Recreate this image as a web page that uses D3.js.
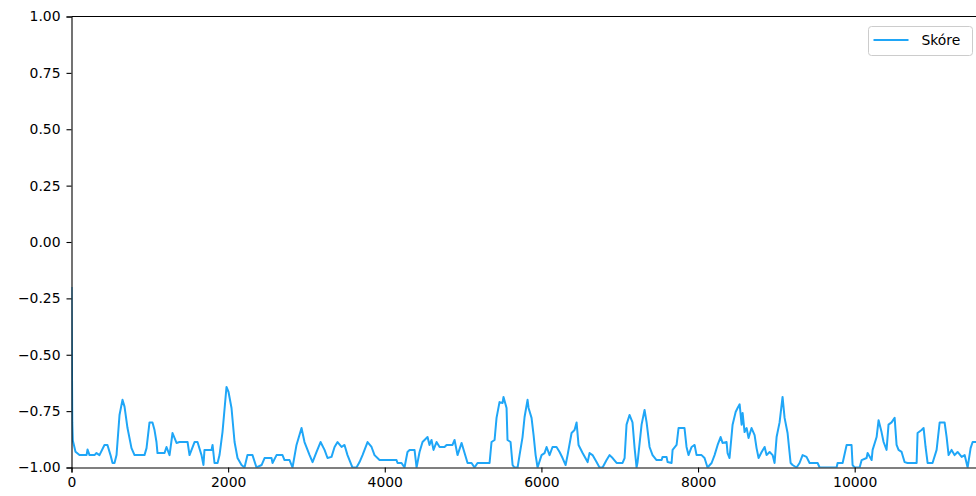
<!DOCTYPE html>
<html>
<head>
<meta charset="utf-8">
<script src="https://cdn.jsdelivr.net/npm/d3@7"></script>
<style>
  html, body { margin: 0; padding: 0; background: #ffffff; }
  svg { display: block; font-family: "DejaVu Sans", sans-serif; }
</style>
</head>
<body>
<svg id="chart" width="976" height="496"></svg>
<script>
// Score samples: position along the run and the score at that position
const steps = [
  0, 10, 17, 51, 102, 192, 205, 230, 294, 319, 357, 421, 459, 498, 524, 549, 575, 613, 651, 677,
  715, 766, 805, 932, 958, 996, 1034, 1060, 1085, 1098, 1188, 1213, 1252, 1290, 1341, 1379, 1482, 1507, 1571, 1609,
  1660, 1685, 1698, 1788, 1801, 1826, 1865, 1890, 1928, 1979, 2005, 2043, 2082, 2120, 2171, 2209, 2247, 2311, 2362, 2427,
  2465, 2554, 2567, 2618, 2694, 2720, 2784, 2822, 2873, 2937, 2975, 3040, 3078, 3129, 3180, 3231, 3269, 3320, 3359, 3397,
  3448, 3486, 3524, 3575, 3588, 3639, 3678, 3716, 3780, 3831, 3869, 3933, 4150, 4163, 4214, 4252, 4290, 4317, 4380, 4406,
  4444, 4482, 4546, 4571, 4597, 4622, 4661, 4700, 4763, 4789, 4865, 4891, 4929, 4981, 5019, 5057, 5108, 5146, 5184, 5338,
  5363, 5402, 5427, 5465, 5504, 5516, 5555, 5567, 5606, 5632, 5657, 5696, 5721, 5759, 5785, 5823, 5836, 5874, 5900, 5926,
  5951, 6002, 6040, 6066, 6104, 6142, 6193, 6232, 6270, 6309, 6334, 6385, 6423, 6449, 6474, 6526, 6590, 6615, 6653, 6704,
  6742, 6781, 6832, 6871, 6909, 6960, 7036, 7062, 7087, 7125, 7163, 7190, 7215, 7228, 7279, 7317, 7343, 7381, 7419, 7470,
  7535, 7547, 7598, 7611, 7662, 7675, 7726, 7751, 7827, 7853, 7878, 7918, 7956, 7981, 8045, 8083, 8121, 8173, 8211, 8250,
  8288, 8313, 8364, 8377, 8402, 8441, 8480, 8505, 8531, 8556, 8569, 8594, 8620, 8645, 8683, 8722, 8747, 8773, 8812, 8850,
  8875, 8914, 8952, 8977, 9003, 9041, 9079, 9105, 9143, 9182, 9207, 9258, 9296, 9335, 9385, 9424, 9527, 9552, 9769, 9782,
  9846, 9897, 9960, 9973, 9999, 10063, 10089, 10152, 10165, 10216, 10229, 10280, 10305, 10343, 10369, 10407, 10432, 10471, 10510, 10535,
  10560, 10599, 10637, 10675, 10791, 10803, 10854, 10880, 10905, 10931, 10994, 11046, 11085, 11148, 11174, 11199, 11237, 11275, 11314, 11366,
  11404, 11442, 11480, 11506, 11544, 11585
];
const scores = [
  -0.20, -0.80, -0.88, -0.93, -0.945, -0.945, -0.92, -0.945, -0.945, -0.936, -0.945, -0.90, -0.90, -0.945, -0.98, -0.98, -0.945, -0.767, -0.70, -0.73,
  -0.825, -0.914, -0.945, -0.945, -0.914, -0.80, -0.80, -0.834, -0.887, -0.936, -0.936, -0.909, -0.945, -0.847, -0.891, -0.887, -0.887, -0.945, -0.887, -0.887,
  -0.945, -0.989, -0.922, -0.922, -0.90, -0.98, -0.98, -0.945, -0.843, -0.643, -0.665, -0.736, -0.887, -0.958, -0.989, -1.0, -0.945, -0.945, -1.0, -0.989,
  -0.958, -0.958, -0.98, -0.945, -0.945, -0.967, -0.967, -1.0, -0.90, -0.825, -0.887, -0.945, -0.976, -0.931, -0.887, -0.922, -0.958, -0.953, -0.909, -0.887,
  -0.909, -0.90, -0.945, -0.989, -1.0, -1.0, -0.976, -0.945, -0.887, -0.909, -0.945, -0.967, -0.967, -0.98, -0.98, -1.0, -0.931, -0.922, -0.922, -1.0,
  -0.931, -0.887, -0.865, -0.90, -0.878, -0.922, -0.887, -0.909, -0.909, -0.90, -0.90, -0.878, -0.945, -0.891, -0.936, -0.98, -0.98, -1.0, -0.98, -0.98,
  -0.887, -0.878, -0.78, -0.71, -0.714, -0.687, -0.736, -0.878, -0.887, -0.989, -1.0, -1.0, -0.945, -0.865, -0.776, -0.70, -0.736, -0.78, -0.856, -0.945,
  -1.0, -0.945, -0.936, -0.909, -0.945, -0.909, -0.909, -0.931, -0.958, -0.989, -0.945, -0.847, -0.834, -0.80, -0.90, -0.936, -0.976, -0.936, -0.945, -0.976,
  -1.0, -1.0, -0.967, -0.945, -0.958, -0.98, -0.98, -0.958, -0.81, -0.767, -0.80, -0.914, -1.0, -0.976, -0.81, -0.745, -0.80, -0.909, -0.945, -0.967,
  -0.967, -0.953, -0.953, -0.976, -0.98, -0.922, -0.90, -0.825, -0.825, -0.909, -0.945, -0.909, -0.90, -0.945, -0.945, -0.958, -1.0, -0.98, -0.945, -0.90,
  -0.865, -0.891, -0.887, -0.936, -0.958, -0.81, -0.754, -0.736, -0.72, -0.81, -0.758, -0.843, -0.825, -0.869, -0.825, -0.856, -0.914, -0.958, -0.931, -0.909,
  -0.945, -0.931, -0.945, -0.98, -0.865, -0.80, -0.687, -0.78, -0.847, -0.98, -0.989, -1.0, -0.98, -0.945, -0.953, -0.98, -0.98, -1.0, -1.0, -0.98,
  -0.98, -0.90, -0.90, -0.989, -1.0, -1.0, -0.967, -0.958, -0.936, -0.967, -0.922, -0.865, -0.79, -0.843, -0.887, -0.922, -0.81, -0.80, -0.78, -0.90,
  -0.922, -0.931, -0.976, -0.98, -0.98, -0.847, -0.834, -0.825, -0.909, -0.98, -0.98, -0.922, -0.80, -0.80, -0.865, -0.945, -0.922, -0.945, -0.931, -0.953,
  -0.945, -1.0, -0.914, -0.887, -0.887, -0.89
];
const seriesName = "Skóre";
const xTicks = [0, 2000, 4000, 6000, 8000, 10000];
const yTicks = [-1.00, -0.75, -0.50, -0.25, 0.00, 0.25, 0.50, 0.75, 1.00];
const xDomain = [0, 11600];
const yDomain = [-1, 1];

const svg = d3.select("#chart");
const plotLeft = 71.5, plotTop = 16.5, plotBottom = 467.5, plotRight = 980;
const lineColor = "#1fa6f7";

const x = d3.scaleLinear().domain(xDomain).range([plotLeft, plotRight]);
const y = d3.scaleLinear().domain(yDomain).range([plotBottom, plotTop]);

svg.append("defs").append("clipPath").attr("id", "plotClip")
  .append("rect")
  .attr("x", plotLeft).attr("y", plotTop)
  .attr("width", plotRight - plotLeft).attr("height", plotBottom - plotTop);

const data = steps.map((s, i) => [s, scores[i]]);

const line = d3.line()
  .x(d => x(d[0]))
  .y(d => y(d[1]));

svg.append("path")
  .datum(data)
  .attr("clip-path", "url(#plotClip)")
  .attr("fill", "none")
  .attr("stroke", lineColor)
  .attr("stroke-width", 2)
  .attr("stroke-linejoin", "round")
  .attr("stroke-linecap", "butt")
  .attr("d", line);

const fmtMinus = s => s.replace("-", "\u2212");

// Axes
const xAxis = d3.axisBottom(x)
  .tickValues(xTicks)
  .tickFormat(d => fmtMinus(d3.format("d")(d)))
  .tickSizeOuter(0)
  .tickSize(5)
  .tickPadding(5);

const yAxis = d3.axisLeft(y)
  .tickValues(yTicks)
  .tickFormat(d => fmtMinus(d3.format(".2f")(d)))
  .tickSizeOuter(0)
  .tickSize(5)
  .tickPadding(6);

const gx = svg.append("g")
  .attr("transform", `translate(0,${plotBottom})`)
  .call(xAxis);
const gy = svg.append("g")
  .attr("transform", `translate(${plotLeft},0)`)
  .call(yAxis);

[gx, gy].forEach(g => {
  g.selectAll(".domain").attr("stroke", "#000").attr("stroke-width", 1.1);
  g.selectAll(".tick line").attr("stroke", "#000").attr("stroke-width", 1.1);
  g.selectAll(".tick text")
    .attr("fill", "#000")
    .style("font-size", "13.9px")
    .style("font-family", "'DejaVu Sans', sans-serif");
});

// top spine
svg.append("line")
  .attr("x1", plotLeft).attr("x2", plotRight)
  .attr("y1", plotTop).attr("y2", plotTop)
  .attr("stroke", "#000").attr("stroke-width", 1.1);

// Legend
const legend = svg.append("g").attr("transform", "translate(868.5,26.5)");
legend.append("rect")
  .attr("width", 104).attr("height", 29)
  .attr("rx", 3).attr("ry", 3)
  .attr("fill", "rgba(255,255,255,0.8)")
  .attr("stroke", "#cccccc")
  .attr("stroke-width", 1);
legend.append("line")
  .attr("x1", 5).attr("x2", 40)
  .attr("y1", 13.5).attr("y2", 13.5)
  .attr("stroke", lineColor)
  .attr("stroke-width", 2);
legend.append("text")
  .attr("x", 53).attr("y", 18.5)
  .attr("fill", "#000")
  .style("font-size", "13.9px")
  .style("font-family", "'DejaVu Sans', sans-serif")
  .text(seriesName);
</script>
</body>
</html>
